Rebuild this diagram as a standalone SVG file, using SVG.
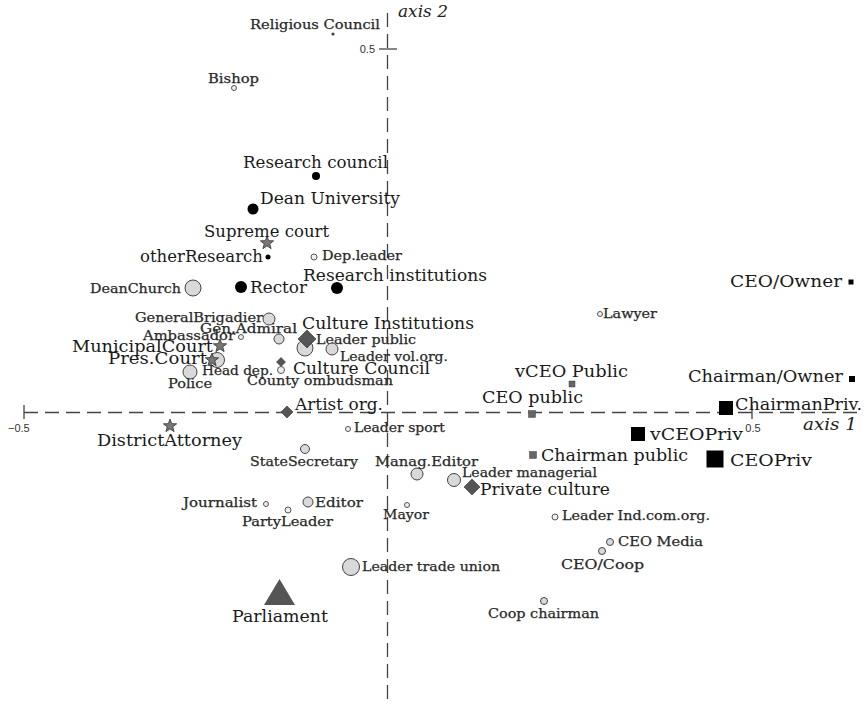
<svg xmlns="http://www.w3.org/2000/svg" width="868" height="705" viewBox="0 0 868 705">
<style>
.ax{stroke:#444;stroke-width:1.3;fill:none;stroke-dasharray:14 7}
.tk{stroke:#444;stroke-width:1.3;fill:none}
.L{font-family:"DejaVu Serif","Liberation Serif",serif;font-size:17.5px;fill:#1a1a1a}
.S{font-family:"DejaVu Serif","Liberation Serif",serif;font-size:12.5px;fill:#2a2a2a;stroke:#2a2a2a;stroke-width:0.25}
.n{font-family:"Liberation Sans","DejaVu Sans",sans-serif;font-size:11px;fill:#333}
.it{font-family:"DejaVu Serif","Liberation Serif",serif;font-style:italic;font-size:17px;fill:#222}
.c{fill:#d9d9d9;stroke:#444;stroke-width:1}
.cs{fill:#eee;stroke:#555;stroke-width:1}
.bk{fill:#000}
.sq{fill:#000}
.sg{fill:#666;stroke:#444;stroke-width:0.5}
.st{fill:#777;stroke:#333;stroke-width:0.8}
.dm{fill:#555;stroke:#333;stroke-width:0.6}
</style>
<defs>
<polygon id="star" points="0,-7 1.705,-2.346 6.657,-2.163 2.758,0.896 4.114,5.663 0,2.9 -4.114,5.663 -2.758,0.896 -6.657,-2.163 -1.705,-2.346"/>
</defs>
<rect width="868" height="705" fill="#fff"/>
<g id="axes">
<line class="ax" x1="387.5" y1="13" x2="387.5" y2="705"/>
<line class="ax" x1="24" y1="412.5" x2="862" y2="412.5"/>
<line class="tk" x1="24" y1="405" x2="24" y2="419"/>
<line class="tk" x1="752" y1="405" x2="752" y2="419"/>
<line class="tk" x1="379" y1="49" x2="397" y2="49"/>
<text class="n" x="8" y="432">−0.5</text>
<text class="n" x="753" y="432" text-anchor="middle">0.5</text>
<text class="n" x="375" y="53" text-anchor="end">0.5</text>
<text class="it" x="398" y="17" textLength="50" lengthAdjust="spacingAndGlyphs">axis 2</text>
<text class="it" x="803" y="430" textLength="54" lengthAdjust="spacingAndGlyphs">axis 1</text>
</g>
<g id="religious-council"><circle cx="333" cy="34" r="1.6" fill="#444"/><text class="S" x="250" y="29" textLength="130" lengthAdjust="spacingAndGlyphs">Religious Council</text></g>
<g id="bishop"><circle class="cs" cx="234" cy="88" r="2.5"/><text class="S" x="208" y="83" textLength="51" lengthAdjust="spacingAndGlyphs">Bishop</text></g>
<g id="research-council"><circle class="bk" cx="316" cy="176" r="4"/><text class="L" x="243" y="168" textLength="145" lengthAdjust="spacingAndGlyphs">Research council</text></g>
<g id="dean-university"><circle class="bk" cx="253" cy="209" r="5.5"/><text class="L" x="260" y="204" textLength="140" lengthAdjust="spacingAndGlyphs">Dean University</text></g>
<g id="supreme-court"><use href="#star" class="st" x="267" y="243"/><text class="L" x="204" y="237" textLength="125" lengthAdjust="spacingAndGlyphs">Supreme court</text></g>
<g id="other-research"><circle class="bk" cx="268" cy="257" r="2.5"/><text class="L" x="140" y="262" textLength="123" lengthAdjust="spacingAndGlyphs">otherResearch</text></g>
<g id="dep-leader"><circle class="cs" cx="314" cy="257" r="3"/><text class="S" x="322" y="260" textLength="80" lengthAdjust="spacingAndGlyphs">Dep.leader</text></g>
<g id="research-institutions"><circle class="bk" cx="337" cy="288" r="6"/><text class="L" x="303" y="281" textLength="184" lengthAdjust="spacingAndGlyphs">Research institutions</text></g>
<g id="dean-church"><circle class="c" cx="193" cy="288" r="8"/><text class="S" x="90" y="293" textLength="91" lengthAdjust="spacingAndGlyphs">DeanChurch</text></g>
<g id="rector"><circle class="bk" cx="241" cy="287" r="6"/><text class="L" x="250" y="293" textLength="57" lengthAdjust="spacingAndGlyphs">Rector</text></g>
<g id="ceo-owner"><rect class="sq" x="848.5" y="279.5" width="5" height="5"/><text class="L" x="730" y="287" textLength="112" lengthAdjust="spacingAndGlyphs">CEO/Owner</text></g>
<g id="lawyer"><circle class="cs" cx="600" cy="314" r="2.5"/><text class="S" x="603" y="318" textLength="54" lengthAdjust="spacingAndGlyphs">Lawyer</text></g>
<g id="general-brigadier"><circle class="c" cx="269" cy="319" r="6"/><text class="S" x="135" y="322" textLength="128" lengthAdjust="spacingAndGlyphs">GeneralBrigadier</text></g>
<g id="gen-admiral"><circle class="c" cx="279" cy="339" r="5"/><text class="S" x="200" y="333" textLength="97" lengthAdjust="spacingAndGlyphs">Gen.Admiral</text></g>
<g id="leader-public"><circle class="c" cx="305" cy="348" r="8"/><text class="S" x="316" y="344" textLength="100" lengthAdjust="spacingAndGlyphs">Leader public</text></g>
<g id="culture-institutions"><polygon class="dm" points="307,330 316,339 307,348 298,339"/><text class="L" x="302" y="329" textLength="172" lengthAdjust="spacingAndGlyphs">Culture Institutions</text></g>
<g id="ambassador"><circle class="cs" cx="241" cy="337" r="2.5"/><text class="S" x="143" y="340" textLength="92" lengthAdjust="spacingAndGlyphs">Ambassador</text></g>
<g id="municipal-court"><use href="#star" class="st" x="220" y="346"/><text class="L" x="72" y="352" textLength="141" lengthAdjust="spacingAndGlyphs">MunicipalCourt</text></g>
<g id="leader-vol-org"><circle class="c" cx="332" cy="349" r="6"/><text class="S" x="340" y="361" textLength="108" lengthAdjust="spacingAndGlyphs">Leader vol.org.</text></g>
<g id="head-dep"><circle class="c" cx="217" cy="360" r="7.5"/><text class="S" x="202" y="375" textLength="71" lengthAdjust="spacingAndGlyphs">Head dep.</text></g>
<g id="pres-court"><use href="#star" class="st" x="212" y="360"/><text class="L" x="108" y="364" textLength="99" lengthAdjust="spacingAndGlyphs">Pres.Court</text></g>
<g id="culture-council"><polygon class="dm" points="281,357.5 285.5,362 281,366.5 276.5,362"/><text class="L" x="293" y="374" textLength="137" lengthAdjust="spacingAndGlyphs">Culture Council</text></g>
<g id="county-ombudsman"><circle class="cs" cx="281" cy="370" r="3.5"/><text class="S" x="247" y="385" textLength="146" lengthAdjust="spacingAndGlyphs">County ombudsman</text></g>
<g id="police"><circle class="c" cx="190" cy="372" r="7"/><text class="S" x="168" y="388" textLength="44" lengthAdjust="spacingAndGlyphs">Police</text></g>
<g id="artist-org"><polygon class="dm" points="287,406 293,412 287,418 281,412"/><text class="L" x="295" y="410" textLength="88" lengthAdjust="spacingAndGlyphs">Artist org.</text></g>
<g id="vceo-public"><rect class="sg" x="569" y="381" width="6" height="6"/><text class="L" x="515" y="377" textLength="113" lengthAdjust="spacingAndGlyphs">vCEO Public</text></g>
<g id="ceo-public"><rect class="sg" x="528.5" y="410.5" width="7" height="7"/><text class="L" x="482" y="403" textLength="101" lengthAdjust="spacingAndGlyphs">CEO public</text></g>
<g id="chairman-owner"><rect class="sq" x="849" y="376" width="6" height="6"/><text class="L" x="688" y="382" textLength="155" lengthAdjust="spacingAndGlyphs">Chairman/Owner</text></g>
<g id="chairman-priv"><rect class="sq" x="719" y="401" width="14" height="14"/><text class="L" x="735" y="410" textLength="127" lengthAdjust="spacingAndGlyphs">ChairmanPriv.</text></g>
<g id="district-attorney"><use href="#star" class="st" x="170" y="426"/><text class="L" x="97" y="446" textLength="145" lengthAdjust="spacingAndGlyphs">DistrictAttorney</text></g>
<g id="leader-sport"><circle class="cs" cx="348" cy="429" r="2.5"/><text class="S" x="354" y="432" textLength="91" lengthAdjust="spacingAndGlyphs">Leader sport</text></g>
<g id="vceo-priv"><rect class="sq" x="631" y="427" width="14" height="14"/><text class="L" x="650" y="440" textLength="93" lengthAdjust="spacingAndGlyphs">vCEOPriv</text></g>
<g id="state-secretary"><circle class="c" cx="305" cy="449" r="4.5"/><text class="S" x="250" y="466" textLength="108" lengthAdjust="spacingAndGlyphs">StateSecretary</text></g>
<g id="manag-editor"><circle class="c" cx="417" cy="474" r="6"/><text class="S" x="375" y="466" textLength="103" lengthAdjust="spacingAndGlyphs">Manag.Editor</text></g>
<g id="chairman-public"><rect class="sg" x="529.5" y="451.5" width="7" height="7"/><text class="L" x="541" y="461" textLength="147" lengthAdjust="spacingAndGlyphs">Chairman public</text></g>
<g id="ceo-priv"><rect class="sq" x="706.5" y="450.5" width="17" height="17"/><text class="L" x="730" y="466" textLength="82" lengthAdjust="spacingAndGlyphs">CEOPriv</text></g>
<g id="leader-managerial"><circle class="c" cx="454" cy="480" r="6.5"/><text class="S" x="462" y="477" textLength="135" lengthAdjust="spacingAndGlyphs">Leader managerial</text></g>
<g id="private-culture"><polygon class="dm" points="472,479 480,487 472,495 464,487"/><text class="L" x="480" y="495" textLength="130" lengthAdjust="spacingAndGlyphs">Private culture</text></g>
<g id="journalist"><circle class="cs" cx="266" cy="504" r="2.5"/><text class="S" x="183" y="507" textLength="74" lengthAdjust="spacingAndGlyphs">Journalist</text></g>
<g id="party-leader"><circle class="cs" cx="288" cy="510" r="3"/><text class="S" x="242" y="526" textLength="91" lengthAdjust="spacingAndGlyphs">PartyLeader</text></g>
<g id="editor"><circle class="c" cx="308" cy="502" r="5"/><text class="S" x="315" y="507" textLength="48" lengthAdjust="spacingAndGlyphs">Editor</text></g>
<g id="mayor"><circle class="cs" cx="407" cy="505" r="2.5"/><text class="S" x="383" y="519" textLength="46" lengthAdjust="spacingAndGlyphs">Mayor</text></g>
<g id="leader-ind-com-org"><circle class="cs" cx="555" cy="517" r="3"/><text class="S" x="562" y="520" textLength="148" lengthAdjust="spacingAndGlyphs">Leader Ind.com.org.</text></g>
<g id="ceo-media"><circle class="c" cx="610" cy="542" r="3.5"/><text class="S" x="618" y="546" textLength="85" lengthAdjust="spacingAndGlyphs">CEO Media</text></g>
<g id="ceo-coop"><circle class="c" cx="602" cy="551" r="3.5"/><text class="S" x="561" y="569" textLength="83" lengthAdjust="spacingAndGlyphs">CEO/Coop</text></g>
<g id="leader-trade-union"><circle class="c" cx="351" cy="567" r="8.5"/><text class="S" x="362" y="571" textLength="138" lengthAdjust="spacingAndGlyphs">Leader trade union</text></g>
<g id="parliament"><polygon points="279.5,579 295,605 264,605" fill="#555"/><text class="L" x="232" y="622" textLength="96" lengthAdjust="spacingAndGlyphs">Parliament</text></g>
<g id="coop-chairman"><circle class="c" cx="544" cy="601" r="3.5"/><text class="S" x="488" y="618" textLength="111" lengthAdjust="spacingAndGlyphs">Coop chairman</text></g>
</svg>
